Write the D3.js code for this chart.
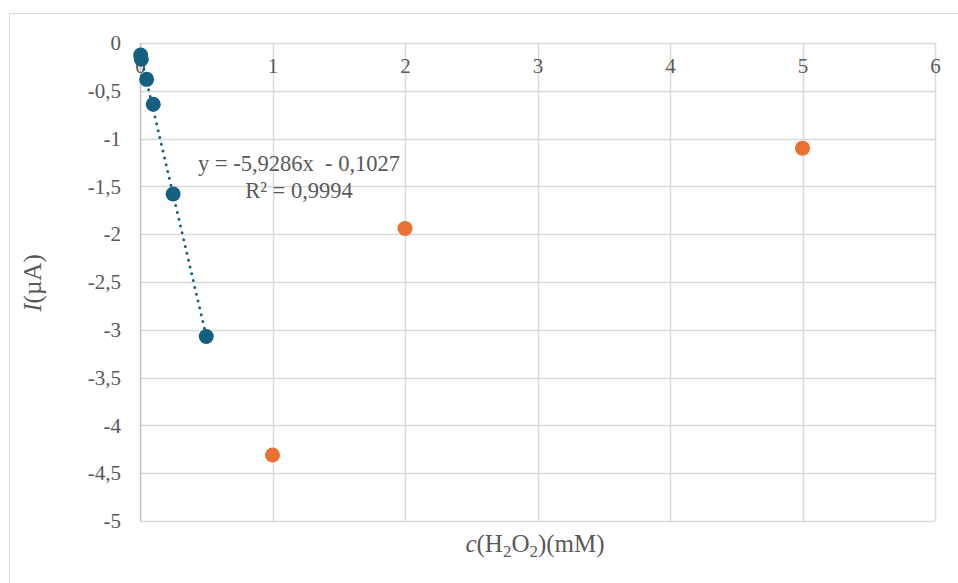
<!DOCTYPE html>
<html><head><meta charset="utf-8">
<script src="https://cdn.jsdelivr.net/npm/d3@7"></script>
<style>body{margin:0;background:#fff}svg{display:block}svg text{font-family:"Liberation Serif","Times New Roman",serif}</style>
</head><body>
<svg id="c" width="958" height="583"></svg>
<script>
const blueX = [0.005, 0.01, 0.05, 0.1, 0.25, 0.5];
const blueY = [-0.125, -0.17, -0.38, -0.64, -1.58, -3.07];
const orangeX = [1, 2, 5];
const orangeY = [-4.31, -1.94, -1.10];
const xTicks = [0, 1, 2, 3, 4, 5, 6];
const yTicks = [0, -0.5, -1, -1.5, -2, -2.5, -3, -3.5, -4, -4.5, -5];
const slope = -5.9286, intercept = -0.1027;
const eqText = "y = -5,9286x  - 0,1027";
const r2Text = "R² = 0,9994";

const svg = d3.select("#c");
const txtCol = "#595959";
const x = d3.scaleLinear().domain([0, 6]).range([140, 935]);
const y = d3.scaleLinear().domain([0, -5]).range([43, 521]);

// outer chart frame
svg.append("path").attr("d", "M9.5,583 V13.5 H958").attr("fill", "none").attr("stroke", "#d9d9d9").attr("stroke-width", 1);

// gridlines
const g = svg.append("g");
g.selectAll(".hg").data(yTicks).join("line")
  .attr("x1", x(0)).attr("x2", x(6)).attr("y1", d => Math.round(y(d)) + 0.5).attr("y2", d => Math.round(y(d)) + 0.5)
  .attr("stroke", "#d9d9d9").attr("stroke-width", 1.5);
g.selectAll(".vg").data(xTicks).join("line")
  .attr("y1", y(0)).attr("y2", y(-5)).attr("x1", d => Math.round(x(d)) + 0.5).attr("x2", d => Math.round(x(d)) + 0.5)
  .attr("stroke", d => d === 0 ? "#bfbfbf" : "#d9d9d9").attr("stroke-width", 1.5);

// axes via d3
const yAxis = d3.axisLeft(y).tickValues(yTicks).tickSize(0).tickPadding(0)
  .tickFormat(d => String(d).replace(".", ","));
const ya = svg.append("g").attr("transform", "translate(121,0)").call(yAxis);
ya.attr("font-family", null);
ya.select(".domain").remove();
ya.selectAll("text").style("font-size", "21px").attr("fill", txtCol).attr("dy", "0.32em");

const xAxis = d3.axisBottom(x).tickValues(xTicks).tickSize(0).tickPadding(0).tickFormat(d => String(d));
const xa = svg.append("g").attr("transform", "translate(0,58)").call(xAxis);
xa.attr("font-family", null);
xa.select(".domain").remove();
xa.selectAll("text").style("font-size", "21px").attr("fill", txtCol).attr("dy", "0.71em");

// trendline
const tx = [d3.min(blueX), d3.max(blueX)];
svg.append("line")
  .attr("x1", x(tx[0])).attr("y1", y(slope * tx[0] + intercept))
  .attr("x2", x(tx[1])).attr("y2", y(slope * tx[1] + intercept))
  .attr("stroke", "#156082").attr("stroke-width", 3).attr("stroke-dasharray", "0 7").attr("stroke-linecap", "round");

// points
svg.append("g").selectAll("circle").data(orangeX.map((d, i) => [d, orangeY[i]])).join("circle")
  .attr("cx", d => x(d[0])).attr("cy", d => y(d[1])).attr("r", 7.5).attr("fill", "#E97132");
svg.append("g").selectAll("circle").data(blueX.map((d, i) => [d, blueY[i]])).join("circle")
  .attr("cx", d => x(d[0])).attr("cy", d => y(d[1])).attr("r", 7.5).attr("fill", "#156082");

// equation label
svg.append("text").attr("x", 299).attr("y", 171).attr("text-anchor", "middle")
  .style("font-size", "22.5px").attr("fill", txtCol).style("white-space", "pre").text(eqText);
svg.append("text").attr("x", 299).attr("y", 198).attr("text-anchor", "middle")
  .style("font-size", "22.5px").attr("fill", txtCol).text(r2Text);

// axis titles
const xt = svg.append("text").attr("x", 535).attr("y", 552).attr("text-anchor", "middle")
  .style("font-size", "25px").attr("fill", txtCol);
xt.append("tspan").attr("font-style", "italic").text("c");
xt.append("tspan").text("(H");
xt.append("tspan").style("font-size", "17px").attr("dy", 5).text("2");
xt.append("tspan").attr("dy", -5).text("O");
xt.append("tspan").style("font-size", "17px").attr("dy", 5).text("2");
xt.append("tspan").attr("dy", -5).text(")(mM)");

const yt = svg.append("text").attr("transform", "translate(41,283) rotate(-90)").attr("text-anchor", "middle")
  .style("font-size", "25px").attr("fill", txtCol);
yt.append("tspan").attr("font-style", "italic").text("I");
yt.append("tspan").text("(µA)");
</script>
</body></html>
